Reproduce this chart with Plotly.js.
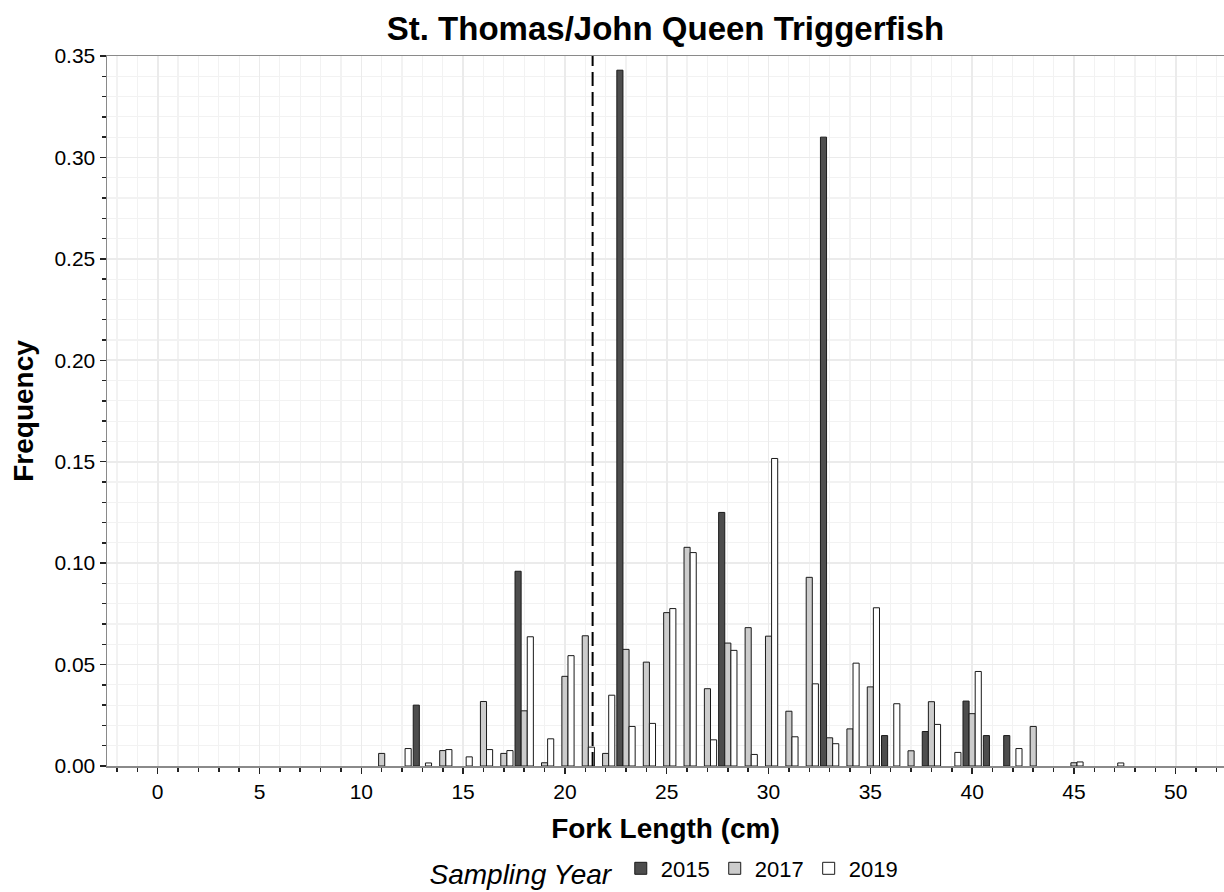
<!DOCTYPE html>
<html>
<head>
<meta charset="utf-8">
<script src="https://cdn.plot.ly/plotly-3.0.1.min.js"></script>
<style>
html,body{margin:0;padding:0;background:#ffffff;}
#chart{width:1224px;height:892px;}
</style>
</head>
<body>
<div id="chart"></div>
<script>
// Fork length bins (cm) and relative frequency per sampling year
const len2015  = [13, 18, 23, 28, 33, 36, 38, 40, 41, 42];
const freq2015 = [0.030, 0.096, 0.343, 0.125, 0.310, 0.015, 0.017, 0.032, 0.015, 0.015];

const len2017  = [11, 14, 16, 17, 18, 19, 20, 21, 22, 23, 24, 25, 26, 27, 28, 29, 30, 31, 32, 33, 34, 35, 37, 38, 40, 43, 45];
const freq2017 = [0.0062, 0.0076, 0.0318, 0.0062, 0.0272, 0.0016, 0.0442, 0.0642, 0.0062, 0.0575, 0.0512, 0.0756, 0.1078, 0.0381, 0.0606, 0.0682, 0.0640, 0.0270, 0.0930, 0.0139, 0.0183, 0.0390, 0.0075, 0.0317, 0.0258, 0.0195, 0.0016];

const len2019  = [12, 13, 14, 15, 16, 17, 18, 19, 20, 21, 22, 23, 24, 25, 26, 27, 28, 29, 30, 31, 32, 33, 34, 35, 36, 38, 39, 40, 42, 45, 47];
const freq2019 = [0.0086, 0.0015, 0.0081, 0.0045, 0.0081, 0.0076, 0.0637, 0.0134, 0.0544, 0.0093, 0.0349, 0.0195, 0.0210, 0.0776, 0.1052, 0.0129, 0.0570, 0.0057, 0.1516, 0.0144, 0.0405, 0.0110, 0.0507, 0.0780, 0.0307, 0.0205, 0.0067, 0.0466, 0.0086, 0.0020, 0.0015];

const yearNames = ['2015', '2017', '2019'];
const referenceLength = 21.36; // dashed reference line (cm)

const xTickVals = [0, 5, 10, 15, 20, 25, 30, 35, 40, 45, 50];
const yTickVals = [0, 0.05, 0.10, 0.15, 0.20, 0.25, 0.30, 0.35];

const outline = {color: '#1a1a1a', width: 1};
const traces = [
  {type: 'bar', name: yearNames[0], x: len2015, y: freq2015, marker: {color: '#4d4d4d', line: outline}},
  {type: 'bar', name: yearNames[1], x: len2017, y: freq2017, marker: {color: '#cccccc', line: outline}},
  {type: 'bar', name: yearNames[2], x: len2019, y: freq2019, marker: {color: '#ffffff', line: outline}}
];

const layout = {
  width: 1224,
  height: 892,
  margin: {l: 107, r: 0, t: 56, b: 126, autoexpand: false},
  paper_bgcolor: '#ffffff',
  plot_bgcolor: '#ffffff',
  barmode: 'group',
  bargap: 0.1,
  bargroupgap: 0,
  font: {family: 'Liberation Sans, Arial, sans-serif', color: '#000000'},
  title: {
    text: 'St. Thomas/John Queen Triggerfish',
    font: {size: 33, weight: 'bold', color: '#000000'},
    x: 0.5, xref: 'paper', xanchor: 'center',
    y: 1 - 28 / 892, yref: 'container', yanchor: 'middle'
  },
  xaxis: {
    range: [-2.49, 52.37],
    automargin: false,
    tickmode: 'array',
    tickvals: xTickVals,
    ticktext: xTickVals.map(String),
    ticks: 'outside', ticklen: 6, tickwidth: 1.5, tickcolor: '#222222',
    tickfont: {size: 21, color: '#000000'},
    showline: true, linecolor: '#8a8a8a', linewidth: 1.5, mirror: true,
    showgrid: true, gridcolor: '#ebebeb', gridwidth: 1.6,
    zeroline: false,
    minor: {dtick: 1, tick0: 0, ticks: 'outside', ticklen: 4, tickwidth: 1.5, tickcolor: '#222222',
            showgrid: true, gridcolor: '#f2f2f2', gridwidth: 1.2},
    title: {text: 'Fork Length (cm)', font: {size: 28, weight: 'bold', color: '#000000'}, standoff: 16}
  },
  yaxis: {
    range: [0, 0.35],
    automargin: false,
    tickmode: 'array',
    tickvals: yTickVals,
    ticktext: yTickVals.map(v => v.toFixed(2)),
    ticks: 'outside', ticklen: 6, tickwidth: 1.5, tickcolor: '#222222',
    tickfont: {size: 21, color: '#000000'},
    showline: true, linecolor: '#8a8a8a', linewidth: 1.5, mirror: false,
    showgrid: true, gridcolor: '#ebebeb', gridwidth: 1.6,
    zeroline: false,
    minor: {dtick: 0.01, tick0: 0, ticks: 'outside', ticklen: 4, tickwidth: 1.5, tickcolor: '#222222',
            showgrid: true, gridcolor: '#f2f2f2', gridwidth: 1.2},
    title: {text: 'Frequency', font: {size: 28, weight: 'bold', color: '#000000'}, standoff: 12}
  },
  showlegend: true,
  legend: {
    orientation: 'h',
    x: 0.5, xanchor: 'center',
    yref: 'container',
    y: 1 - 871 / 892, yanchor: 'middle',
    font: {size: 22, color: '#000000'},
    title: {text: 'Sampling Year', side: 'left', font: {size: 28, style: 'italic', color: '#000000'}},
    itemwidth: 30,
    bgcolor: 'rgba(0,0,0,0)',
    traceorder: 'normal'
  },
  shapes: [{
    type: 'line', xref: 'x', yref: 'paper',
    x0: referenceLength, x1: referenceLength, y0: 0, y1: 1,
    line: {color: '#000000', width: 2, dash: '14px,6px'}
  }]
};

Plotly.newPlot('chart', traces, layout, {displayModeBar: false, staticPlot: true});
</script>
</body>
</html>
